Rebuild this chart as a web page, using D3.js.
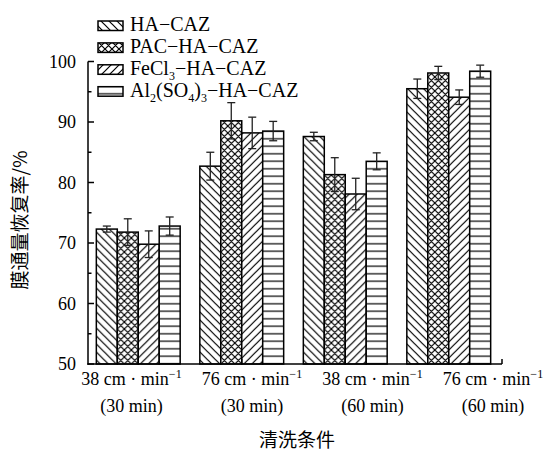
<!DOCTYPE html>
<html><head><meta charset="utf-8">
<script src="https://cdn.jsdelivr.net/npm/d3@7"></script>
<style>body{margin:0;background:#fff}svg{display:block}</style>
</head><body>
<script>
const categories = ["38 cm · min", "76 cm · min", "38 cm · min", "76 cm · min"];
const durations = ["(30 min)", "(30 min)", "(60 min)", "(60 min)"];
const seriesNames = ["HA−CAZ", "PAC−HA−CAZ", "FeCl_3−HA−CAZ", "Al_2(SO_4)_3−HA−CAZ"];
const haCaz = [72.3, 82.7, 87.6, 95.5];
const haCazErr = [0.5, 2.3, 0.7, 1.6];
const pacHaCaz = [71.8, 90.2, 81.3, 98.1];
const pacHaCazErr = [2.2, 3.0, 2.8, 1.1];
const feHaCaz = [69.8, 88.2, 78.1, 94.1];
const feHaCazErr = [2.2, 2.6, 2.6, 1.2];
const alHaCaz = [72.8, 88.5, 83.5, 98.4];
const alHaCazErr = [1.5, 1.6, 1.4, 1.0];
const yTicks = [50, 60, 70, 80, 90, 100];
const yMinorTicks = [55, 65, 75, 85, 95];
const yTitle = "膜通量恢复率/%";
const xTitle = "清洗条件";

const values = [haCaz, pacHaCaz, feHaCaz, alHaCaz];
const errors = [haCazErr, pacHaCazErr, feHaCazErr, alHaCazErr];

const W = 549, H = 452;
const svg = d3.select("body").append("svg").attr("width", W).attr("height", H);
const serif = "'Liberation Serif','Times New Roman',serif";
const cjk = "'Noto Sans CJK SC','Noto Sans CJK JP',sans-serif";

const axL = 88, axR = 502, axB = 364, axT = 61.5;
const x0 = d3.scaleBand().domain(d3.range(categories.length)).range([86.5, 500.5]).paddingInner(0.19).paddingOuter(0.095);
const x1 = d3.scaleBand().domain(d3.range(seriesNames.length)).range([0, x0.bandwidth()]);
const y = d3.scaleLinear().domain([50, 100]).range([axB, axT]);
const xl = d3.scalePoint().domain(d3.range(categories.length)).range([131.5, 493]);

// patterns
const defs = svg.append("defs");
const pats = [
  {id: "p0", size: 8, d: "M0,0L8,8M-2,6L2,10M6,-2L10,2"},
  {id: "p1", size: 7, d: "M0,0L7,7M-2,5L2,9M5,-2L9,2M0,7L7,0M-2,2L2,-2M5,9L9,5"},
  {id: "p2", size: 8, d: "M0,8L8,0M-2,2L2,-2M6,10L10,6"},
  {id: "p3", size: 7.5, d: "M0,3.75L7.5,3.75"}
];
pats.forEach(p => {
  defs.append("pattern").attr("id", p.id).attr("patternUnits", "userSpaceOnUse")
    .attr("width", p.size).attr("height", p.size)
    .call(g => g.append("rect").attr("width", p.size).attr("height", p.size).attr("fill", "#fff"))
    .append("path").attr("d", p.d).attr("stroke", "#000").attr("stroke-width", 1.2).attr("fill", "none");
});

// bars
const groups = svg.append("g").selectAll("g").data(categories).join("g")
  .attr("transform", (d, i) => `translate(${x0(i)},0)`);
groups.each(function(c, ci) {
  const g = d3.select(this);
  seriesNames.forEach((s, si) => {
    const v = values[si][ci];
    g.append("rect").attr("x", x1(si)).attr("y", y(v)).attr("width", x1.bandwidth())
      .attr("height", y(50) - y(v)).attr("fill", `url(#p${si})`).attr("stroke", "#000").attr("stroke-width", 1.5);
  });
  seriesNames.forEach((s, si) => {
    const v = values[si][ci], e = errors[si][ci];
    const cx = x1(si) + x1.bandwidth() / 2;
    const eb = g.append("g").attr("stroke", "#222").attr("stroke-width", 1.3);
    eb.append("line").attr("x1", cx).attr("x2", cx).attr("y1", y(v + e)).attr("y2", y(v - e));
    eb.append("line").attr("x1", cx - 4).attr("x2", cx + 4).attr("y1", y(v + e)).attr("y2", y(v + e));
    eb.append("line").attr("x1", cx - 4).attr("x2", cx + 4).attr("y1", y(v - e)).attr("y2", y(v - e));
  });
});

// axes
const ax = svg.append("g").attr("stroke", "#000").attr("stroke-width", 1.5);
ax.append("line").attr("x1", axL).attr("x2", axL).attr("y1", axT).attr("y2", axB + 0.75);
ax.append("line").attr("x1", axL - 0.75).attr("x2", axR).attr("y1", axB).attr("y2", axB);
yTicks.forEach(t => ax.append("line").attr("x1", axL).attr("x2", axL + 6).attr("y1", y(t)).attr("y2", y(t)));
yMinorTicks.forEach(t => ax.append("line").attr("x1", axL).attr("x2", axL + 3.5).attr("y1", y(t)).attr("y2", y(t)));
categories.forEach((c, i) => ax.append("line").attr("x1", x0(i) + x0.bandwidth() / 2).attr("x2", x0(i) + x0.bandwidth() / 2).attr("y1", axB).attr("y2", axB - 5));
ax.append("line").attr("x1", axR).attr("x2", axR).attr("y1", axB).attr("y2", axB - 5);

svg.append("g").selectAll("text").data(yTicks).join("text")
  .attr("x", 76).attr("y", d => y(d)).attr("dy", "0.35em").attr("text-anchor", "end")
  .attr("font-family", serif).attr("font-size", 18).text(d => d);

// x labels
categories.forEach((c, i) => {
  const t = svg.append("text").attr("x", xl(i)).attr("y", 385).attr("text-anchor", "middle")
    .attr("font-family", serif).attr("font-size", 18);
  t.append("tspan").text(c);
  t.append("tspan").attr("dy", -7).attr("font-size", 12).text("−1");
  svg.append("text").attr("x", xl(i)).attr("y", 412).attr("text-anchor", "middle")
    .attr("font-family", serif).attr("font-size", 18).text(durations[i]);
});

svg.append("text").attr("x", 297).attr("y", 447).attr("text-anchor", "middle")
  .attr("font-family", cjk).attr("font-size", 19).attr("fill", "#000").text(xTitle);
svg.append("text").attr("transform", "translate(27,220) rotate(-90)").attr("text-anchor", "middle")
  .attr("font-family", cjk).attr("font-size", 19).attr("fill", "#000").text(yTitle);

// legend
seriesNames.forEach((s, si) => {
  const top = 21 + si * 21.9;
  svg.append("rect").attr("x", 98).attr("y", top).attr("width", 25).attr("height", 9.5)
    .attr("fill", `url(#p${si})`).attr("stroke", "#000").attr("stroke-width", 1.5);
  const t = svg.append("text").attr("x", 130).attr("y", top + 10).attr("font-family", serif).attr("font-size", 20);
  const parts = s.split(/_(\d)/);
  parts.forEach((p, k) => {
    if (k % 2 === 0) { if (p) t.append("tspan").attr("dy", k === 0 ? 0 : -5).text(p); }
    else t.append("tspan").attr("dy", 5).attr("font-size", 12).text(p);
  });
});
</script>
</body></html>
